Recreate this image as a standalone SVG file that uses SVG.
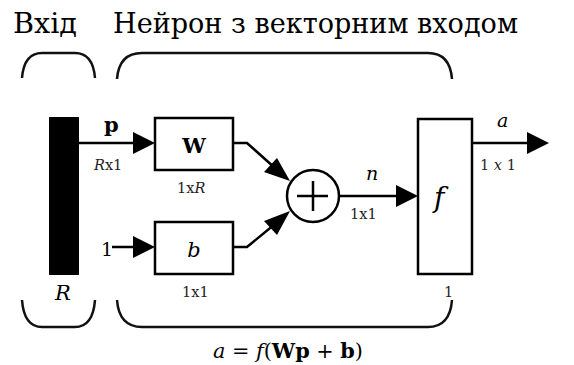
<svg xmlns="http://www.w3.org/2000/svg" width="574" height="365" viewBox="0 0 574 365">
<style>
text{font-family:'DejaVu Serif',serif;fill:#000}
.s{font-size:14.5px;fill:#222}
.br{fill:none;stroke:#111;stroke-width:2.5}
.ln{fill:none;stroke:#000;stroke-width:2.5}
.box{fill:#fff;stroke:#000;stroke-width:2.5}
</style>
<rect width="574" height="365" fill="#fff"/>
<g id="titles">
<text x="13" y="33" font-size="28" textLength="64" lengthAdjust="spacingAndGlyphs">Вхід</text>
<text x="113" y="33" font-size="28" textLength="405" lengthAdjust="spacingAndGlyphs">Нейрон з векторним входом</text>
</g>
<g id="braces">
<path class="br" d="M22,78 Q24,53 42,53 L75,53 Q93,53 95,78"/>
<path class="br" d="M117,79 Q119,53 142,53 L428,53 Q450,53 452,79"/>
<path class="br" d="M22,300 Q24,327 42,327 L75,327 Q93,327 95,300"/>
<path class="br" d="M117,300 Q119,327 142,327 L428,327 Q450,327 452,300"/>
</g>
<g id="connectors">
<line class="ln" x1="79" y1="143" x2="135" y2="143"/>
<path d="M133,132 L155,143 L133,154 Z"/>
<line class="ln" x1="112" y1="247" x2="135" y2="247"/>
<path d="M133,236 L155,247 L133,258 Z"/>
<polyline class="ln" points="233,143 247,143 275,168"/>
<path d="M290,181 L264,172 L277,158 Z"/>
<polyline class="ln" points="233,247 247,247 275,224"/>
<path d="M290,211 L277,235 L264,221 Z"/>
<line class="ln" x1="339" y1="196" x2="398" y2="196"/>
<path d="M396,185 L418,196 L396,207 Z"/>
<line class="ln" x1="472" y1="143" x2="529" y2="143"/>
<path d="M527,132 L549,143 L527,154 Z"/>
</g>
<g id="input">
<rect x="49" y="117" width="30" height="158" fill="#000"/>
<text x="55" y="300" font-size="21" font-style="italic" fill="#222">R</text>
</g>
<g id="p-label">
<text x="104" y="132" font-size="21" font-weight="bold">p</text>
<text class="s" x="94" y="170"><tspan font-style="italic">R</tspan>x1</text>
</g>
<g id="W">
<rect class="box" x="155" y="118" width="78" height="52"/>
<text x="194" y="153" font-size="21" font-weight="bold" text-anchor="middle">W</text>
<text class="s" x="177" y="193">1x<tspan font-style="italic">R</tspan></text>
</g>
<g id="one">
<text x="101" y="256" font-size="19">1</text>
</g>
<g id="b">
<rect class="box" x="155" y="222" width="78" height="52"/>
<text x="194" y="257" font-size="21" font-style="italic" text-anchor="middle">b</text>
<text class="s" x="182" y="297">1x1</text>
</g>
<g id="sum">
<circle class="box" cx="313" cy="196" r="26"/>
<line class="ln" x1="297" y1="196" x2="328" y2="196"/>
<line class="ln" x1="313" y1="181" x2="313" y2="211"/>
</g>
<g id="n-label">
<text x="366" y="180" font-size="19" font-style="italic">n</text>
<text class="s" x="350" y="219">1x1</text>
</g>
<g id="f">
<rect class="box" x="418" y="119" width="54" height="155"/>
<text x="434" y="207" font-size="28" font-style="italic">f</text>
<text class="s" x="444" y="297">1</text>
</g>
<g id="a-label">
<text x="497" y="127" font-size="19" font-style="italic">a</text>
<text class="s" x="480" y="170">1 <tspan font-style="italic">x</tspan> 1</text>
</g>
<text x="213" y="358" font-size="20" textLength="150" lengthAdjust="spacingAndGlyphs"><tspan font-style="italic">a</tspan> = <tspan font-style="italic">f</tspan>(<tspan font-weight="bold">Wp</tspan> + <tspan font-weight="bold">b</tspan>)</text>
</svg>
